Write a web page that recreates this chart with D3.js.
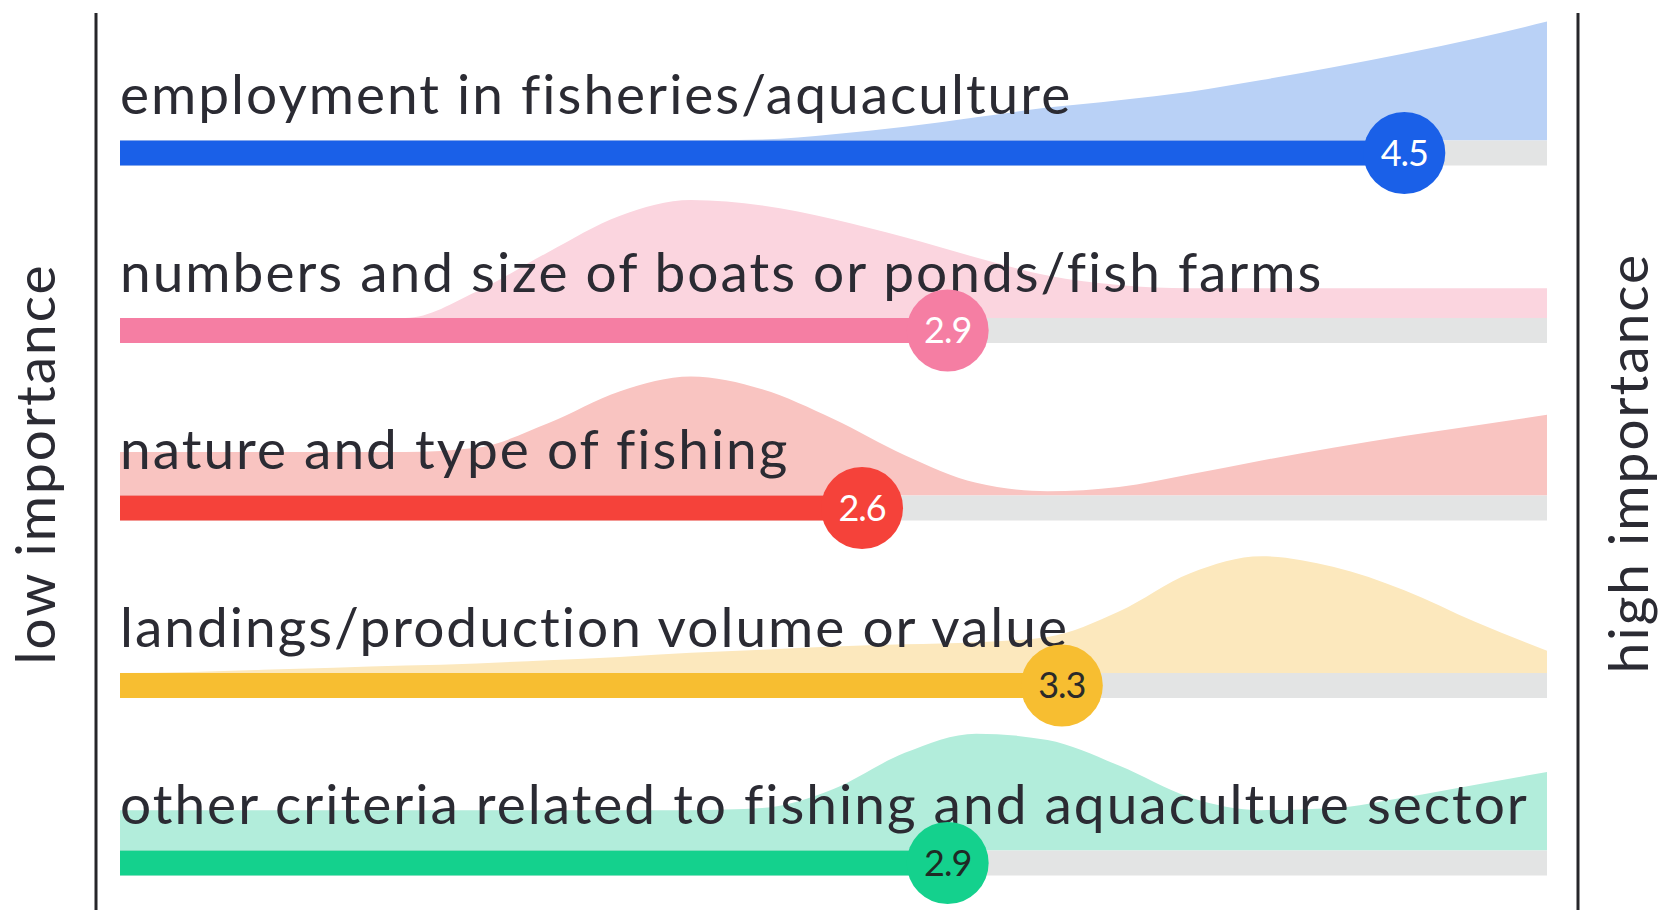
<!DOCTYPE html>
<html>
<head>
<meta charset="utf-8">
<script src="https://cdn.jsdelivr.net/npm/d3@7"></script>
<style>
    body { margin: 0; background: #fff; }
    svg { display: block; }
</style>
</head>
<body>
<div id="chart"></div>
<script>
"use strict";

// criteria, in drawing order (top to bottom)
const criteria = [
    "employment in fisheries/aquaculture",
    "numbers and size of boats or ponds/fish farms",
    "nature and type of fishing",
    "landings/production volume or value",
    "other criteria related to fishing and aquaculture sector"
];

// mean importance score (0 = low ... 5 = high)
const meanScores = [4.5, 2.9, 2.6, 3.3, 2.9];

// grid of score positions where the answer distribution is read
const scoreGrid = [0, 0.25, 0.5, 0.75, 1, 1.25, 1.5, 1.75, 2, 2.25, 2.5,
    2.75, 3, 3.25, 3.5, 3.75, 4, 4.25, 4.5, 4.75, 5];

// distribution of answers along the score axis (relative density)
const densityEmployment = [0, 0, 0, 0, 0, 0, 0, 0, 0, 1, 6,
    13, 22, 31, 38, 46, 57, 69, 82, 96, 112];
const densityBoats = [0, 0, 0, 0, 0, 25, 62, 96, 111, 106, 93,
    76, 57, 40, 31, 28, 28, 28, 28, 28, 28];
const densityFishing = [41, 41, 41, 41, 41, 45, 68, 98, 112, 100, 72,
    38, 12, 4, 8, 20, 33, 45, 56, 66, 76];
const densityLandings = [0, 1, 3, 5, 7, 9, 12, 15, 19, 22, 25,
    27, 29, 34, 58, 94, 110, 100, 78, 48, 21];
const densityOther = [38, 38, 38, 38, 38, 38, 38, 38, 38, 40, 58,
    92, 110, 104, 80, 50, 38, 40, 50, 62, 74];

const densities = [densityEmployment, densityBoats, densityFishing, densityLandings, densityOther];

const barColors = ["#1a60e8", "#f57ea3", "#f5423a", "#f7be31", "#14d18d"];
const areaColors = ["#b9d1f6", "#fbd5df", "#f9c4c1", "#fce8bd", "#b2eddb"];
const badgeText = ["#ffffff", "#ffffff", "#ffffff", "#2a2a2a", "#1f2a25"];

const plot = {
    width: 1665,
    height: 915,
    barLeft: 120,
    barRight: 1547,
    firstRow: 153,
    lastRow: 863,
    barHeight: 25,
    areaMax: 120,
    radius: 41
}

const fontFamily = "Lato, 'Open Sans', sans-serif";

let svg = d3.select("#chart")
    .append("svg")
    .attr("width", plot.width)
    .attr("height", plot.height);

let xScale = d3.scaleLinear()
    .domain([0, 5])
    .range([plot.barLeft, plot.barRight]);

let yScale = d3.scalePoint()
    .domain(criteria)
    .range([plot.firstRow, plot.lastRow]);

let hScale = d3.scaleLinear()
    .domain([0, 113])
    .range([0, plot.areaMax]);

drawFrame();
criteria.forEach((name, i) => drawRow(name, i));

function drawRow(name, i) {
    let cy = yScale(name);
    let base = cy - plot.barHeight / 2;
    let g = svg.append("g").attr("class", "row");

    let points = scoreGrid.map((s, k) => ({ score: s, density: densities[i][k] }));

    let area = d3.area()
        .x((d) => xScale(d.score))
        .y0(base)
        .y1((d) => base - hScale(d.density))
        .curve(d3.curveMonotoneX);

    g.append("path")
        .datum(points)
        .attr("fill", areaColors[i])
        .attr("d", area);

    // grey track for the full scale
    g.append("rect")
        .attr("x", xScale(0))
        .attr("y", base)
        .attr("width", xScale(5) - xScale(0))
        .attr("height", plot.barHeight)
        .attr("fill", "#e3e4e4");

    g.append("rect")
        .attr("x", xScale(0))
        .attr("y", base)
        .attr("width", xScale(meanScores[i]) - xScale(0))
        .attr("height", plot.barHeight)
        .attr("fill", barColors[i]);

    g.append("text")
        .attr("x", xScale(0))
        .attr("y", cy - 39)
        .attr("font-family", fontFamily)
        .attr("font-size", "55px")
        .attr("letter-spacing", "2px")
        .attr("fill", "#2b2b33")
        .text(name);

    g.append("circle")
        .attr("cx", xScale(meanScores[i]))
        .attr("cy", cy)
        .attr("r", plot.radius)
        .attr("fill", barColors[i]);

    g.append("text")
        .attr("x", xScale(meanScores[i]))
        .attr("y", cy)
        .attr("dy", "0.36em")
        .attr("text-anchor", "middle")
        .attr("font-family", fontFamily)
        .attr("font-size", "36px")
        .attr("letter-spacing", "-1px")
        .attr("fill", badgeText[i])
        .text(d3.format(".1f")(meanScores[i]));
}

function drawFrame() {
    [96, 1578].forEach((x) => {
        svg.append("line")
            .attr("x1", x)
            .attr("x2", x)
            .attr("y1", 13)
            .attr("y2", 910)
            .attr("stroke", "#26262a")
            .attr("stroke-width", 3);
    });

    svg.append("text")
        .attr("transform", "translate(55, 464) rotate(-90)")
        .attr("text-anchor", "middle")
        .attr("font-family", fontFamily)
        .attr("font-size", "55px")
        .attr("letter-spacing", "2px")
        .attr("fill", "#2b2b33")
        .text("low importance");

    svg.append("text")
        .attr("transform", "translate(1648, 463) rotate(-90)")
        .attr("text-anchor", "middle")
        .attr("font-family", fontFamily)
        .attr("font-size", "55px")
        .attr("letter-spacing", "2px")
        .attr("fill", "#2b2b33")
        .text("high importance");
}
</script>
</body>
</html>
